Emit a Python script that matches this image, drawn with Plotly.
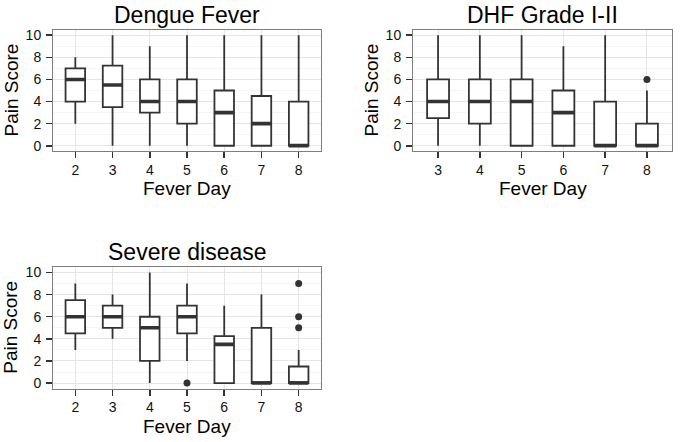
import plotly.graph_objects as go

# ---------------- data ----------------
df_days = ["2", "3", "4", "5", "6", "7", "8"]
df_low = [2, 0, 0, 0, 0, 0, 0]
df_q1 = [4, 3.5, 3, 2, 0, 0, 0]
df_med = [6, 5.5, 4, 4, 3, 2, 0]
df_q3 = [7, 7.25, 6, 6, 5, 4.5, 4]
df_up = [8, 10, 9, 10, 10, 10, 10]
df_out_x = []
df_out_y = []

dhf_days = ["3", "4", "5", "6", "7", "8"]
dhf_low = [0, 0, 0, 0, 0, 0]
dhf_q1 = [2.5, 2, 0, 0, 0, 0]
dhf_med = [4, 4, 4, 3, 0, 0]
dhf_q3 = [6, 6, 6, 5, 4, 2]
dhf_up = [10, 10, 10, 9, 10, 5]
dhf_out_x = ["8"]
dhf_out_y = [6]

sd_days = ["2", "3", "4", "5", "6", "7", "8"]
sd_low = [3, 4, 0, 2, 0, 0, 0]
sd_q1 = [4.5, 5, 2, 4.5, 0, 0, 0]
sd_med = [6, 6, 5, 6, 3.5, 0, 0]
sd_q3 = [7.5, 7, 6, 7, 4.25, 5, 1.5]
sd_up = [9, 8, 10, 9, 7, 8, 3]
sd_out_x = ["5", "8", "8", "8"]
sd_out_y = [0, 5, 6, 9]

titles = ["Dengue Fever", "DHF Grade I-II", "Severe disease"]
y_ticks = [0, 2, 4, 6, 8, 10]
x_title = "Fever Day"
y_title = "Pain Score"

# ---------------- style ----------------
INK = "#333333"
FONT = "Liberation Sans, Arial, sans-serif"
W, H = 684, 442

panels = [
    dict(days=df_days, low=df_low, q1=df_q1, med=df_med, q3=df_q3, up=df_up,
         ox=df_out_x, oy=df_out_y, px=(53, 321), py=(27, 150)),
    dict(days=dhf_days, low=dhf_low, q1=dhf_q1, med=dhf_med, q3=dhf_q3, up=dhf_up,
         ox=dhf_out_x, oy=dhf_out_y, px=(413, 672), py=(27, 150)),
    dict(days=sd_days, low=sd_low, q1=sd_q1, med=sd_med, q3=sd_q3, up=sd_up,
         ox=sd_out_x, oy=sd_out_y, px=(53, 321), py=(267, 390)),
]

fig = go.Figure()
annotations = []
layout_axes = {}

for i, p in enumerate(panels):
    n = i + 1
    xa = "x" if n == 1 else f"x{n}"
    ya = "y" if n == 1 else f"y{n}"
    # main boxes
    fig.add_trace(go.Box(
        x=p["days"], q1=p["q1"], median=p["med"], q3=p["q3"],
        lowerfence=p["low"], upperfence=p["up"],
        boxpoints=False, whiskerwidth=0,
        fillcolor="white", line=dict(color=INK, width=1.8),
        xaxis=xa, yaxis=ya, showlegend=False, hoverinfo="skip"))
    # thick median overlay
    fig.add_trace(go.Box(
        x=p["days"], q1=p["med"], median=p["med"], q3=p["med"],
        lowerfence=p["med"], upperfence=p["med"],
        boxpoints=False, whiskerwidth=0,
        fillcolor=INK, line=dict(color=INK, width=3.6),
        xaxis=xa, yaxis=ya, showlegend=False, hoverinfo="skip"))
    # outliers
    if p["ox"]:
        fig.add_trace(go.Scatter(
            x=p["ox"], y=p["oy"], mode="markers",
            marker=dict(color=INK, size=7),
            xaxis=xa, yaxis=ya, showlegend=False, hoverinfo="skip"))

    x0, x1 = p["px"]
    y0, y1 = p["py"]
    xdom = [x0 / W, x1 / W]
    ydom = [1 - y1 / H, 1 - y0 / H]
    ncat = len(p["days"])
    xkey = "xaxis" if n == 1 else f"xaxis{n}"
    ykey = "yaxis" if n == 1 else f"yaxis{n}"
    layout_axes[xkey] = dict(
        domain=xdom, anchor=ya, type="category",
        categoryorder="array", categoryarray=p["days"],
        range=[-0.6, ncat - 1 + 0.6],
        showgrid=True, gridcolor="#E5E5E5", gridwidth=1,
        showline=True, mirror=True, linecolor="#7F7F7F", linewidth=1,
        ticks="outside", ticklen=6, tickwidth=1.5, tickcolor=INK,
        ticklabelstandoff=0,
        tickfont=dict(family=FONT, size=14, color="#111111"),
        zeroline=False, fixedrange=True)
    layout_axes[ykey] = dict(
        domain=ydom, anchor=xa, range=[-0.5, 10.5],
        tickvals=y_ticks,
        showgrid=True, gridcolor="#E5E5E5", gridwidth=1,
        minor=dict(dtick=1, tick0=0, showgrid=True, gridcolor="#F5F5F5", ticks=""),
        showline=True, mirror=True, linecolor="#7F7F7F", linewidth=1,
        ticks="outside", ticklen=6, tickwidth=1.5, tickcolor=INK,
        ticklabelstandoff=2,
        tickfont=dict(family=FONT, size=14, color="#111111"),
        zeroline=False, fixedrange=True)

    cx = (x0 + x1) / 2 / W
    # panel title
    annotations.append(dict(
        text=titles[i], x=cx, y=1 - y0 / H, xref="paper", yref="paper",
        xanchor="center", yanchor="bottom", yshift=0, showarrow=False,
        font=dict(family=FONT, size=23, color="black")))
    # x axis title
    annotations.append(dict(
        text=x_title, x=cx, y=1 - (y1 + 38) / H, xref="paper", yref="paper",
        xanchor="center", yanchor="middle", showarrow=False,
        font=dict(family=FONT, size=19, color="black")))
    # y axis title
    annotations.append(dict(
        text=y_title, x=(x0 - 42) / W, y=(ydom[0] + ydom[1]) / 2,
        xref="paper", yref="paper", textangle=-90,
        xanchor="center", yanchor="middle", showarrow=False,
        font=dict(family=FONT, size=19, color="black")))

fig.update_layout(
    width=W, height=H,
    margin=dict(l=0, r=0, t=0, b=0),
    paper_bgcolor="white", plot_bgcolor="white",
    boxmode="overlay", boxgap=0.25,
    hovermode=False,
    annotations=annotations,
    **layout_axes)

fig.write_html(
    "out.html",
    config={"displayModeBar": False, "staticPlot": True},
    post_script="document.body.style.margin='0';document.body.style.overflow='hidden';")
